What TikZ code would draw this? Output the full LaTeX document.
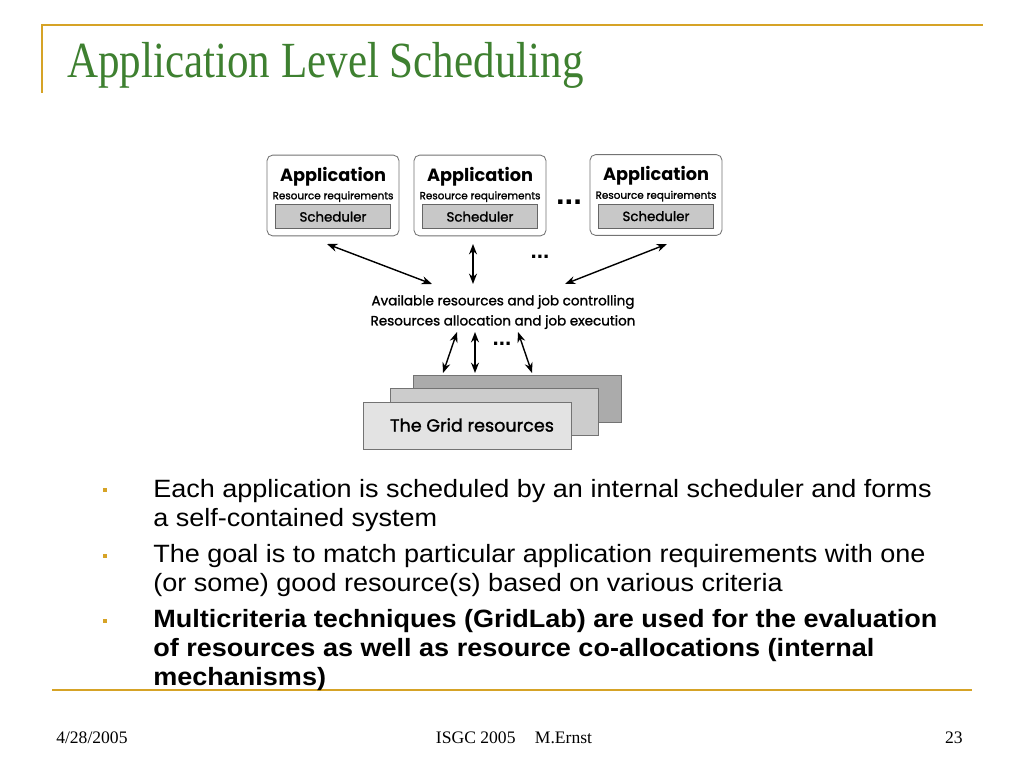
\documentclass[tikz,border=0pt]{standalone}
\usepackage{fontspec}
\setmainfont{Liberation Serif}
\setsansfont{Liberation Sans}
\newfontfamily\diagfont{Poppins}
\newfontfamily\diagmed[FakeBold=1.4]{Poppins}
\usepackage{tikz}
\usetikzlibrary{positioning,arrows.meta,calc}

\definecolor{slidegold}{RGB}{214,163,38}
\definecolor{titlegreen}{RGB}{62,128,48}
\definecolor{schedgray}{RGB}{200,200,200}

\begin{document}
\begin{tikzpicture}[
  x=0.025cm, y=-0.025cm,
  appbox/.style={
    rectangle, rounded corners=4pt,
    draw=black!55, fill=white, line width=0.6pt,
    minimum width=3.3cm, minimum height=2.02cm
  },
  schedbox/.style={
    rectangle, draw=black!60, fill=schedgray, line width=0.5pt,
    minimum width=2.88cm, minimum height=0.6cm,
    font=\diagmed\fontsize{9.5}{11}\selectfont
  },
  apptitle/.style={font=\diagfont\bfseries\fontsize{12.6}{14}\selectfont},
  appreq/.style={font=\diagmed\fontsize{7.4}{9}\selectfont},
  gridsheet/.style={rectangle, draw=black!55, line width=0.5pt,
    minimum width=5.2cm, minimum height=1.18cm},
  arrow/.style={{Stealth[length=2.6mm,width=2mm]}-{Stealth[length=2.6mm,width=2mm]}, line width=1pt},
  dots/.style={font=\sffamily\bfseries\fontsize{16}{16}\selectfont},
  bulletline/.style={anchor=base west, inner sep=0pt,
    font=\sffamily\fontsize{17.8}{20}\selectfont},
  boldline/.style={bulletline, font=\sffamily\bfseries\fontsize{17.8}{20}\selectfont},
  bulletmark/.style={rectangle, fill=slidegold, inner sep=0pt, minimum size=0.09cm},
  footer/.style={font=\fontsize{12.5}{14}\selectfont, anchor=base, inner sep=0pt}
]
\useasboundingbox[fill=white] (0,0) rectangle (1024,768);

% --- slide frame ---
\draw[slidegold, line width=1.6pt] (42,93) -- (42,25) -- (983,25);
\draw[slidegold, line width=1.6pt] (52,690) -- (972,690);
\node[anchor=base west, inner sep=0pt, text=titlegreen,
  font=\fontsize{36}{38}\selectfont] (title) at (67,78)
  {\scalebox{0.85}[1]{Application Level Scheduling}};

% --- applications ---
\node[appbox] (app1) at (333,195.5) {};
\node[appbox] (app2) at (480,195.5) {};
\node[appbox] (app3) at (656,195) {};
\foreach \a in {1,2,3} {
  \node[apptitle] (apptitle\a) at ($(app\a.north)+(0,22)$) {Application};
  \node[appreq] (appreq\a) at ($(app\a.north)+(0,42)$) {Resource requirements};
  \node[schedbox] (sched\a) at ($(app\a.north)+(0,62)$) {Scheduler};
}
\node[dots, font=\sffamily\bfseries\fontsize{22}{22}\selectfont] (appdots) at (569,202) {...};

% --- middle layer ---
\node[align=center, inner sep=1pt,
  font=\diagmed\fontsize{9.6}{14.3}\selectfont] (mid) at (503,312)
  {Available resources and job controlling\\Resources allocation and job execution};
\coordinate (a1) at (327,244);
\coordinate (a2) at (473,244);
\coordinate (a3) at (667,244);
\coordinate (m1) at (432,284);
\coordinate (m2) at (473,284);
\coordinate (m3) at (565,284);
\draw[arrow] (a1) -- (m1);
\draw[arrow] (a2) -- (m2);
\draw[arrow] (a3) -- (m3);
\node[dots] (middots) at (540,257) {...};

% --- the grid resources ---
\node[gridsheet, fill=black!33, anchor=north west] (grid3) at (413,375) {};
\node[gridsheet, fill=black!20, anchor=north west] (grid2) at (390,388) {};
\node[gridsheet, fill=black!11, anchor=north west] (grid1) at (363,402) {};
\node[font=\diagmed\fontsize{12.5}{14}\selectfont] (gridtext) at (472,425) {The Grid resources};
\coordinate (g1) at (457,332);
\coordinate (g2) at (475,332);
\coordinate (g3) at (518,332);
\coordinate (r1) at (443,373);
\coordinate (r2) at (475,373);
\coordinate (r3) at (532,373);
\draw[arrow] (g1) -- (r1);
\draw[arrow] (g2) -- (r2);
\draw[arrow] (g3) -- (r3);
\node[dots] (griddots) at (502,344) {...};

% --- bullet points ---
\foreach \y in {490,556,621}
  \node[bulletmark] at (105,\y) {};
\node[bulletline] (b1a) at (153,497) {\scalebox{1.08}[1]{Each application is scheduled by an internal scheduler and forms}};
\node[bulletline] (b1b) at (153,526) {\scalebox{1.08}[1]{a self-contained system}};
\node[bulletline] (b2a) at (153,562) {\scalebox{1.08}[1]{The goal is to match particular application requirements with one}};
\node[bulletline] (b2b) at (153,591) {\scalebox{1.08}[1]{(or some) good resource(s) based on various criteria}};
\node[boldline] (b3a) at (153,627) {\scalebox{1.08}[1]{Multicriteria techniques (GridLab) are used for the evaluation}};
\node[boldline] (b3b) at (153,656) {\scalebox{1.08}[1]{of resources as well as resource co-allocations (internal}};
\node[boldline] (b3c) at (153,685) {\scalebox{1.08}[1]{mechanisms)}};

% --- footer ---
\node[footer, anchor=base west] (date) at (56,743) {4/28/2005};
\node[footer] (conf) at (514,743) {ISGC 2005\hspace{1.1em}M.Ernst};
\node[footer, anchor=base east] (page) at (963,743) {23};
\end{tikzpicture}
\end{document}
